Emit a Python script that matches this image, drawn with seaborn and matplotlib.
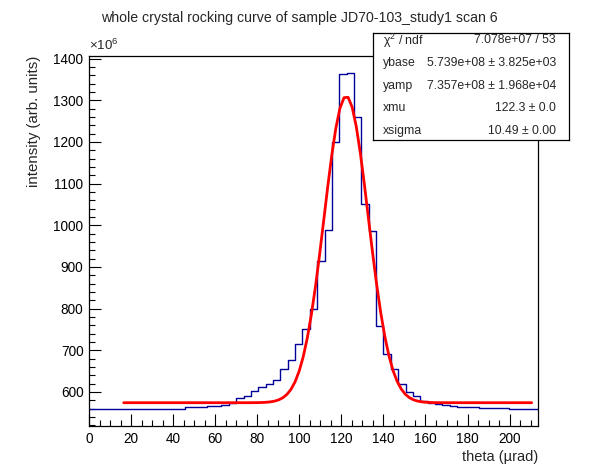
import numpy as np
import pandas as pd
import seaborn as sns
import matplotlib.pyplot as plt
from matplotlib.ticker import MultipleLocator

# histogram: 61 bins of 3.5 urad from 0 to 213.5, heights in units of 1e6
bin_width = 3.5
n_bins = 61
counts = [
    558.5, 558.5, 558.5, 558.5, 558.5, 558.5, 558.5, 558.5, 558.5, 558.5, 558.5, 558.5,
    560.0, 562.5, 562.5, 562.5, 565.0, 567.0, 569.5, 573.0,
    585.0, 590.5, 601.0, 611.0, 619.0, 629.0, 655.0, 677.5, 715.5, 752.0,
    800.0, 914.5, 989.0, 1199.5, 1364.0, 1365.5, 1260.0, 1051.5, 987.0, 758.5,
    690.0, 655.0, 619.0, 599.0, 589.0, 579.0, 574.0, 571.0, 569.0, 566.5,
    564.0, 564.0, 564.0, 562.0, 562.0, 562.0, 562.0, 559.0, 559.0, 559.0, 559.0,
]

# fit parameters (from the stats box)
ybase = 5.739e8
yamp = 7.357e8
xmu = 122.3
xsigma = 10.49
fit_lo, fit_hi = 16.5, 210.5

stat_names = ["\u03c7" + r"$^{2}$" + " / ndf", "ybase", "yamp", "xmu", "xsigma"]
stat_values = ["7.078e+07 / 53", "5.739e+08 \u00b1 3.825e+03",
               "7.357e+08 \u00b1 1.968e+04", "122.3 \u00b1 0.0", "10.49 \u00b1 0.00"]

x_max = n_bins * bin_width
hist_df = pd.DataFrame({"theta": np.arange(n_bins) * bin_width + bin_width / 2,
                        "intensity": counts})

xf = np.linspace(fit_lo, fit_hi, 101)
fit_df = pd.DataFrame({
    "theta": xf,
    "intensity": (ybase + yamp * np.exp(-0.5 * ((xf - xmu) / xsigma) ** 2)) / 1e6,
})

sns.set_style("ticks")
plt.rcParams["font.family"] = ["Liberation Sans", "DejaVu Sans"]
plt.rcParams["mathtext.fontset"] = "custom"
plt.rcParams["mathtext.rm"] = "Liberation Sans"
plt.rcParams["mathtext.it"] = "Liberation Sans"

fig = plt.figure(figsize=(5.98, 4.74), dpi=100)
ax = fig.add_axes([89 / 598, 1 - 426 / 474, 449 / 598, 370 / 474])

sns.histplot(data=hist_df, x="theta", weights="intensity", binwidth=bin_width,
             binrange=(0, x_max), element="step", fill=False, color="#000099",
             linewidth=1.0, ax=ax)
sns.lineplot(data=fit_df, x="theta", y="intensity", color="red",
             linewidth=2.0, ax=ax)

ax.set_xlim(0, x_max)
ax.set_ylim(518, 1406)
ax.xaxis.set_major_locator(MultipleLocator(20))
ax.xaxis.set_minor_locator(MultipleLocator(5))
ax.yaxis.set_major_locator(MultipleLocator(100))
ax.yaxis.set_minor_locator(MultipleLocator(20))
ax.tick_params(which="both", direction="in", top=False, right=False,
               labelsize=9.8, width=0.8, colors="black")
ax.tick_params(which="major", length=8.5, pad=4)
ax.tick_params(which="minor", length=4.3)
for s in ax.spines.values():
    s.set_linewidth(0.9)
    s.set_color("black")

ax.set_xlabel("theta (\u00b5rad)", loc="right", fontsize=10.5, labelpad=3)
ax.set_ylabel("intensity (arb. units)", loc="top", fontsize=10.8, labelpad=9)
ax.text(0.0, 1.008, r"$\times10^{6}$", transform=ax.transAxes,
        fontsize=9.6, ha="left", va="bottom")

fig.text(0.5, 1 - 18 / 474, "whole crystal rocking curve of sample JD70-103_study1 scan 6",
         ha="center", va="center", fontsize=10.2)

# stats box
box = fig.add_axes([373 / 598, 1 - 140 / 474, 196 / 598, 107 / 474])
box.set_xticks([])
box.set_yticks([])
box.set_xlim(0, 1)
box.set_ylim(0, 1)
for s in box.spines.values():
    s.set_linewidth(0.9)
    s.set_color("black")
box.set_facecolor("white")
for i, (name, val) in enumerate(zip(stat_names, stat_values)):
    yy = 1 - (7.5 + 22.6 * i) / 107
    box.text(10 / 196, yy, name, ha="left", va="center", fontsize=8.8)
    box.text(183 / 196, yy, val, ha="right", va="center", fontsize=8.8)

fig.savefig("out.png", dpi=100)
